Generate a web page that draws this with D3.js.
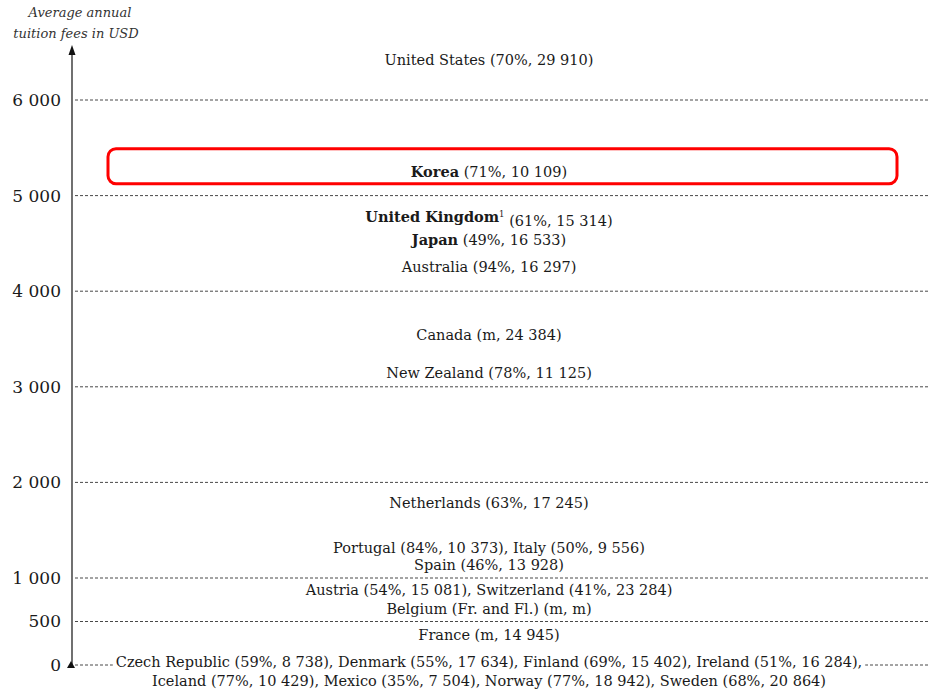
<!DOCTYPE html>
<html><head><meta charset="utf-8">
<script src="https://cdn.jsdelivr.net/npm/d3@7"></script>
<style>body{margin:0;background:#fff;} svg{display:block;}</style>
</head><body>
<svg id="c" width="933" height="693"></svg>
<script>
// ---- data ----
const tickValues = [0, 500, 1000, 2000, 3000, 4000, 5000, 6000];
const tickLabels = ["0", "500", "1 000", "2 000", "3 000", "4 000", "5 000", "6 000"];
const labelNames = ["United States", "Korea", "United Kingdom", "Japan", "Australia", "Canada", "New Zealand",
  "Netherlands", "Portugal", "Spain", "Austria", "Belgium (Fr. and Fl.)", "France", "Czech Republic", "Iceland"];
const labelRest = [" (70%, 29 910)", " (71%, 10 109)", " (61%, 15 314)", " (49%, 16 533)", " (94%, 16 297)",
  " (m, 24 384)", " (78%, 11 125)", " (63%, 17 245)", " (84%, 10 373), Italy (50%, 9 556)", " (46%, 13 928)",
  " (54%, 15 081), Switzerland (41%, 23 284)", " (m, m)", " (m, 14 945)",
  " (59%, 8 738), Denmark (55%, 17 634), Finland (69%, 15 402), Ireland (51%, 16 284),",
  " (77%, 10 429), Mexico (35%, 7 504), Norway (77%, 18 942), Sweden (68%, 20 864)"];
const labelBold = [false, true, true, true, false, false, false, false, false, false, false, false, false, false, false];
const labelSup = ["", "", "1", "", "", "", "", "", "", "", "", "", "", "", ""];
const labelValues = [6420, 5250, 4775, 4535, 4250, 3545, 3140, 1790, 1310, 1140, 860, 650, 340, 35, 35];
const labelLine = [0, 0, 0, 0, 0, 0, 0, 0, 0, 0, 0, 0, 0, 0, 1];
const highlighted = "Korea";

// ---- chart ----
const svg = d3.select("#c");
const axisX = 72, gridX0 = 75, gridX1 = 930, centerX = 489;
const y = d3.scaleLinear().domain([0, 1000, 6000]).range([665, 578, 100]);
const serif = "'DejaVu Serif', serif";
const ink = "#1a1a1a";

// gridlines
svg.append("g").selectAll("line").data(tickValues).join("line")
  .attr("x1", d => d === 0 ? axisX + 3 : gridX0).attr("x2", gridX1)
  .attr("y1", d => y(d)).attr("y2", d => y(d))
  .attr("stroke", "#333").attr("stroke-width", 0.9).attr("stroke-dasharray", "3,2");

// axis tick labels
const ax = svg.append("g").attr("transform", `translate(${axisX},0)`)
  .call(d3.axisLeft(y).tickValues(tickValues).tickFormat((d, i) => tickLabels[i]).tickSize(0).tickPadding(11));
ax.select(".domain").remove();
ax.selectAll("text").attr("font-family", serif).attr("font-size", 17).attr("fill", ink);

// axis line with arrow
svg.append("line").attr("x1", axisX).attr("x2", axisX).attr("y1", y(0)).attr("y2", 52)
  .attr("stroke", "#111").attr("stroke-width", 1.2);
svg.append("path").attr("d", `M${axisX},45 L${axisX - 3.5},55 L${axisX + 3.5},55 Z`).attr("fill", "#111");
svg.append("path").attr("d", `M${axisX - 1},${y(0) - 4} L${axisX - 5},${y(0) + 3} L${axisX + 3},${y(0) + 3} Z`).attr("fill", "#111");

// axis title
svg.append("text").attr("x", 80).attr("y", 17).attr("text-anchor", "middle")
  .attr("font-family", serif).attr("font-style", "italic").attr("font-size", 13).attr("fill", "#333")
  .text("Average annual");
svg.append("text").attr("x", 76).attr("y", 38).attr("text-anchor", "middle")
  .attr("font-family", serif).attr("font-style", "italic").attr("font-size", 13).attr("fill", "#333")
  .text("tuition fees in USD");

// labels
const idx = d3.range(labelNames.length);
const ly = i => y(labelValues[i]) + labelLine[i] * 19;
const lg = svg.append("g");
const texts = lg.selectAll("text").data(idx).join("text")
  .attr("x", centerX).attr("y", i => ly(i)).attr("dy", "0.35em")
  .attr("text-anchor", "middle").attr("font-family", serif).attr("font-size", 14.5).attr("fill", ink);
texts.append("tspan").attr("font-weight", i => labelBold[i] ? "bold" : "normal").text(i => labelNames[i]);
texts.filter(i => labelSup[i]).append("tspan").attr("font-size", 8.5).attr("dy", "-0.6em").text(i => labelSup[i]);
texts.append("tspan").attr("dy", i => labelSup[i] ? "0.6em" : null).text(i => labelRest[i]);

// white background under the first label line sitting on the zero gridline
texts.filter(i => labelValues[i] === labelValues[labelNames.length - 1] && labelLine[i] === 0).each(function () {
  const b = this.getBBox();
  lg.insert("rect", "text").attr("x", b.x - 3).attr("y", b.y).attr("width", b.width + 6).attr("height", b.height).attr("fill", "#fff");
});

// highlight box
const ki = labelNames.indexOf(highlighted);
svg.append("rect").attr("x", 108).attr("width", 789)
  .attr("y", ly(ki) - 23).attr("height", 35).attr("rx", 8)
  .attr("fill", "none").attr("stroke", "#ff0000").attr("stroke-width", 3);
</script>
</body></html>
